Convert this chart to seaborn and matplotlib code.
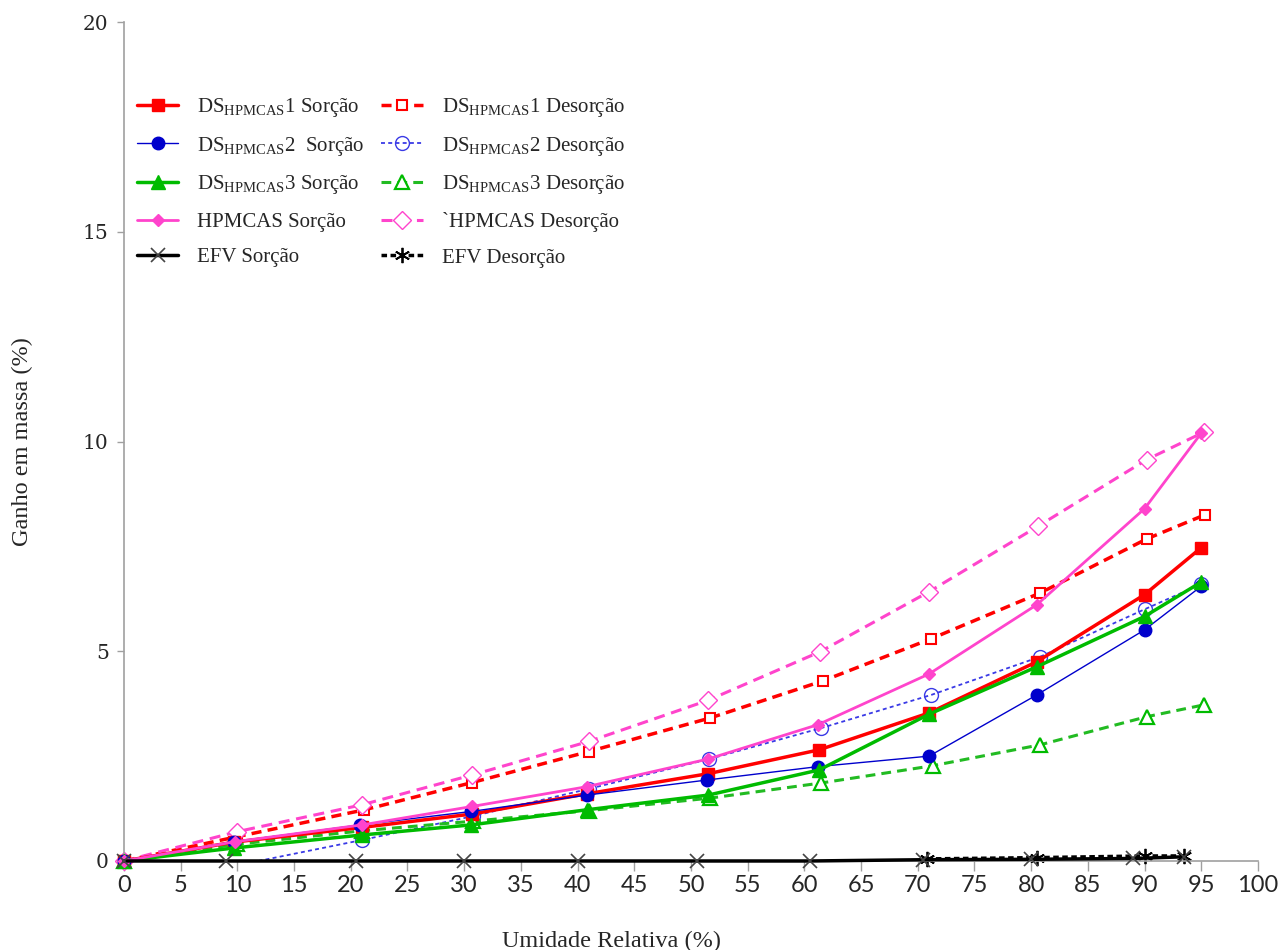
import matplotlib
matplotlib.use("Agg")
import matplotlib.pyplot as plt
import seaborn as sns
import pandas as pd

# ---------------- data ----------------
ds1_sor_x = [0, 9.7, 21, 30.7, 40.8, 51.5, 61.3, 71, 80.5, 90, 95]
ds1_sor_y = [0, 0.45, 0.80, 1.12, 1.60, 2.08, 2.65, 3.53, 4.75, 6.35, 7.47]
ds1_des_x = [0, 10, 21.2, 30.7, 41, 51.7, 61.6, 71.2, 80.8, 90.2, 95.3]
ds1_des_y = [0, 0.58, 1.22, 1.87, 2.61, 3.41, 4.29, 5.30, 6.39, 7.68, 8.25]

ds2_sor_x = [0, 9.7, 20.8, 30.6, 40.8, 51.4, 61.2, 71, 80.5, 90, 95]
ds2_sor_y = [0, 0.46, 0.86, 1.18, 1.57, 1.93, 2.25, 2.50, 3.96, 5.51, 6.55]
ds2_des_x = [0, 21, 30.8, 41, 51.6, 61.5, 71.2, 80.8, 90, 95]
ds2_des_y = [-0.65, 0.50, 1.07, 1.72, 2.43, 3.17, 3.96, 4.87, 6.00, 6.60]

ds3_sor_x = [0, 9.7, 21, 30.6, 40.8, 51.5, 61.3, 71, 80.5, 90, 95]
ds3_sor_y = [0, 0.31, 0.62, 0.86, 1.22, 1.57, 2.17, 3.50, 4.63, 5.83, 6.65]
ds3_des_x = [0, 10, 21, 30.8, 41, 51.7, 61.5, 71.3, 80.8, 90.2, 95.2]
ds3_des_y = [0, 0.40, 0.72, 0.95, 1.20, 1.50, 1.86, 2.27, 2.77, 3.44, 3.72]

hp_sor_x = [0, 9.8, 21, 30.7, 40.8, 51.5, 61.2, 71, 80.5, 90, 95]
hp_sor_y = [0, 0.46, 0.86, 1.30, 1.77, 2.43, 3.25, 4.46, 6.11, 8.40, 10.20]
hp_des_x = [0, 10, 21, 30.7, 41, 51.5, 61.4, 71, 80.6, 90.2, 95.2]
hp_des_y = [0, 0.70, 1.34, 2.05, 2.85, 3.83, 4.99, 6.42, 7.98, 9.57, 10.22]

efv_sor_x = [0, 9, 20.5, 30, 40, 50.5, 60.5, 70.5, 80, 89, 93.5]
efv_sor_y = [0, 0, 0, 0, 0, 0, 0, 0.03, 0.04, 0.06, 0.10]
efv_des_x = [70.8, 80.5, 90, 93.5]
efv_des_y = [0.05, 0.08, 0.12, 0.12]

labels_sor = ["DS$_{\\mathregular{HPMCAS}}$1 Sorção", "DS$_{\\mathregular{HPMCAS}}$2  Sorção",
              "DS$_{\\mathregular{HPMCAS}}$3 Sorção", "HPMCAS Sorção", "EFV Sorção"]
labels_des = ["DS$_{\\mathregular{HPMCAS}}$1 Desorção", "DS$_{\\mathregular{HPMCAS}}$2 Desorção",
              "DS$_{\\mathregular{HPMCAS}}$3 Desorção", "`HPMCAS Desorção", "EFV Desorção"]

x_ticks = list(range(0, 101, 5))
y_ticks = [0, 5, 10, 15, 20]

# ---------------- style ----------------
sns.set_theme(style="white")
plt.rcParams["font.family"] = ["Liberation Serif", "DejaVu Serif"]
plt.rcParams["mathtext.fontset"] = "custom"
plt.rcParams["mathtext.rm"] = "Liberation Serif"
plt.rcParams["mathtext.it"] = "Liberation Serif:italic"
plt.rcParams["mathtext.bf"] = "Liberation Serif:bold"

fig = plt.figure(figsize=(12.83, 9.5), dpi=100)
ax = fig.add_axes([0.0966, 0.0937, 0.8839, 0.8831])

RED = "#FF0000"
BLUE = "#0000CC"
BLUE_D = "#3A3AE6"
GREEN = "#00BB00"
GREEN_D = "#22BB22"
PINK = "#FF44CC"

series = [
    # sorption (left legend column)
    (ds1_sor_x, ds1_sor_y, dict(color=RED, lw=2.5, ls="-", marker="s", ms=9,
                                mfc=RED, mec=RED)),
    (ds2_sor_x, ds2_sor_y, dict(color=BLUE, lw=1.0, ls="-", marker="o", ms=9,
                                mfc=BLUE, mec=BLUE)),
    (ds3_sor_x, ds3_sor_y, dict(color=GREEN, lw=2.5, ls="-", marker="^", ms=10,
                                mfc=GREEN, mec=GREEN)),
    (hp_sor_x, hp_sor_y, dict(color=PINK, lw=2.0, ls="-", marker="D", ms=6,
                              mfc=PINK, mec=PINK)),
    (efv_sor_x, efv_sor_y, dict(color="black", lw=2.5, ls="-", marker="x", ms=10,
                                mfc="#444444", mec="#444444", mew=1.2)),
    # desorption (right legend column)
    (ds1_des_x, ds1_des_y, dict(color=RED, lw=2.5, ls=(0, (2.9, 1.8)), marker="s", ms=7,
                                mfc="white", mec=RED, mew=1.5)),
    (ds2_des_x, ds2_des_y, dict(color=BLUE_D, lw=1.3, ls=(0, (2.2, 1.8)), marker="o", ms=10,
                                mfc="none", mec=BLUE_D, mew=1.0)),
    (ds3_des_x, ds3_des_y, dict(color=GREEN_D, lw=2.2, ls=(0, (3.2, 2.0)), marker="^", ms=10,
                                mfc="white", mec=GREEN, mew=1.6)),
    (hp_des_x, hp_des_y, dict(color=PINK, lw=2.2, ls=(0, (3.6, 2.2)), marker="D", ms=9,
                              mfc="white", mec=PINK, mew=1.0)),
    (efv_des_x, efv_des_y, dict(color="black", lw=2.5, ls=(0, (1.6, 1.0)), marker=(6, 2, 0), ms=11,
                                mfc="black", mec="black", mew=1.3)),
]
labels = labels_sor + labels_des

handles = []
for i, ((xs, ys, st), lab) in enumerate(zip(series, labels)):
    df = pd.DataFrame({"x": xs, "y": ys})
    n_before = len(ax.lines)
    sns.lineplot(data=df, x="x", y="y", ax=ax, sort=False, estimator=None,
                 color=st["color"], linewidth=st["lw"], linestyle=st["ls"],
                 marker=st["marker"], markersize=st["ms"],
                 markerfacecolor=st["mfc"], markeredgecolor=st["mec"],
                 markeredgewidth=st.get("mew", 1.0), legend=False,
                 zorder=3 if i < 5 else 2.5)
    line = ax.lines[n_before]
    line.set_label(lab)
    # markers at y=0 are not clipped in the reference, except the negative DS2 desorption start
    line.set_clip_on(lab.startswith("DS$_{\\mathregular{HPMCAS}}$2 Des"))
    handles.append(line)

ax.set_xlim(0, 100)
ax.set_ylim(0, 20)
ax.set_xticks(x_ticks)
ax.set_yticks(y_ticks)
ax.set_xticklabels([str(t) for t in x_ticks], fontfamily="Lato", fontsize=17)
ax.set_yticklabels([str(t) for t in y_ticks], fontfamily="DejaVu Serif", fontsize=14.5)

for s in ["top", "right"]:
    ax.spines[s].set_visible(False)
for s in ["left", "bottom"]:
    ax.spines[s].set_color("#A0A0A0")
    ax.spines[s].set_linewidth(1.2)
ax.tick_params(axis="x", direction="out", length=7, width=1.0, color="#A0A0A0", pad=3, bottom=True)
ax.tick_params(axis="y", direction="out", length=5, width=1.0, color="#A0A0A0", pad=6, left=True)
ax.grid(False)

ax.set_xlabel("Umidade Relativa (%)", fontsize=17.5)
ax.set_ylabel("Ganho em massa (%)", fontsize=17.5)
ax.xaxis.set_label_coords(0.43, -0.083)
ax.yaxis.set_label_coords(-0.08, 0.5)

leg = ax.legend(handles=handles, ncol=2, loc="upper left", bbox_to_anchor=(0.004, 0.922),
                frameon=False, fontsize=15, handlelength=2.0, handletextpad=0.9,
                columnspacing=0.8, labelspacing=0.76, borderaxespad=0.0)

fig.savefig("out.png", dpi=100)
